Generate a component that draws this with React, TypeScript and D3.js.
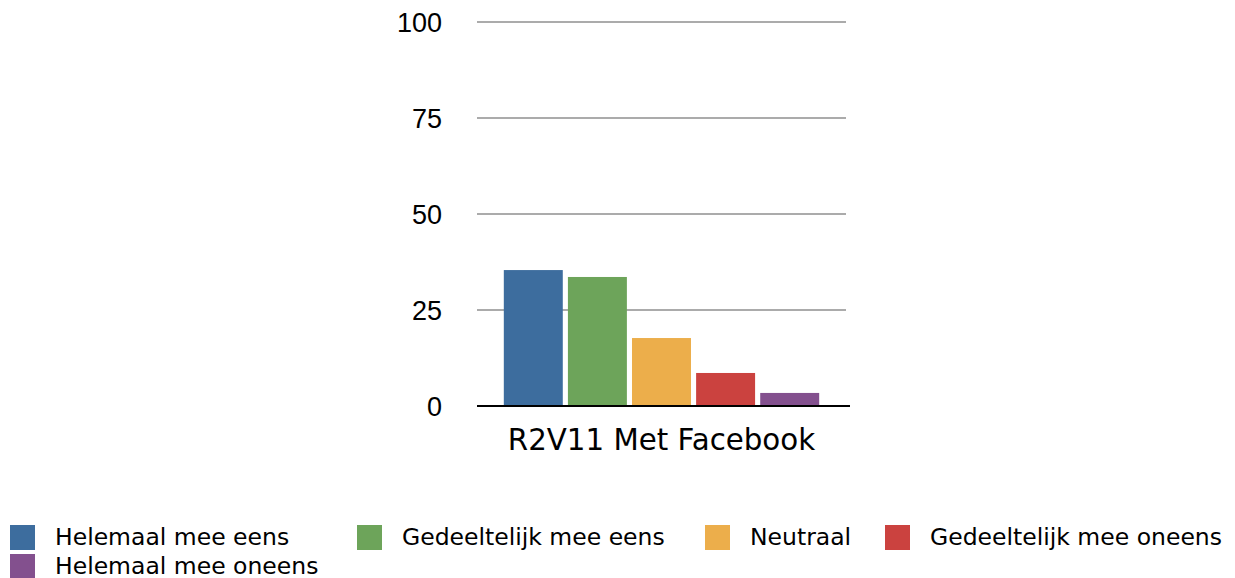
import React from 'react'
import * as d3 from 'd3'

const category = 'R2V11 Met Facebook'
const seriesNames = [
    'Helemaal mee eens',
    'Gedeeltelijk mee eens',
    'Neutraal',
    'Gedeeltelijk mee oneens',
    'Helemaal mee oneens',
]
const seriesValues = [35.4, 33.6, 17.7, 8.6, 3.4]
const seriesColors = ['#3d6d9e', '#6da45a', '#ecae4b', '#cb423f', '#83508e']
const yTicks = [0, 25, 50, 75, 100]

const width = 1235
const height = 578
const plot = { left: 477, right: 846, top: 22, bottom: 406 }
// legend layout: item x start per slot on each row
const legendRows = [[10, 357, 705, 885], [10]]

const App = () => {
    const yScale = d3.scaleLinear().domain([0, 100]).range([plot.bottom, plot.top])
    const xGroup = d3.scaleBand().domain([category]).range([plot.left, plot.right]).paddingInner(0).paddingOuter(0.085)
    const xBar = d3.scaleBand().domain(seriesNames).range([0, xGroup.bandwidth()]).paddingInner(0.08).paddingOuter(0)

    const legendItems = seriesNames.map((name, i) => {
        let row = 0, idx = i
        if (i >= legendRows[0].length) { row = 1; idx = i - legendRows[0].length }
        return { name, color: seriesColors[i], x: legendRows[row][idx], y: 525 + row * 29 }
    })

    return (
        <svg width={width} height={height} style={{ position: 'absolute', left: 0, top: 0 }}>
            {yTicks.map(t => (
                <g key={t}>
                    {t > 0 && <line x1={plot.left} x2={plot.right} y1={yScale(t)} y2={yScale(t)} stroke="#ababab" strokeWidth={2} />}
                    <text x={442} y={yScale(t)} dy="0.36em" textAnchor="end" fontFamily="Liberation Sans, Arial, sans-serif" fontSize={27} fill="#000">{t}</text>
                </g>
            ))}
            {seriesNames.map((name, i) => (
                <rect key={name} x={xGroup(category) + xBar(name)} y={yScale(seriesValues[i])} width={xBar.bandwidth()} height={yScale(0) - yScale(seriesValues[i])} fill={seriesColors[i]} />
            ))}
            <line x1={plot.left} x2={plot.right + 4} y1={yScale(0)} y2={yScale(0)} stroke="#000" strokeWidth={2} />
            <text x={xGroup(category) + xGroup.bandwidth() / 2} y={450} textAnchor="middle" fontFamily="DejaVu Sans, Verdana, sans-serif" fontSize={29.3} fill="#000">{category}</text>
            {legendItems.map(d => (
                <g key={d.name} transform={`translate(${d.x},${d.y})`}>
                    <rect width={25} height={25} fill={d.color} />
                    <text x={45} y={12} dy="0.36em" fontFamily="DejaVu Sans, Verdana, sans-serif" fontSize={23.5} fill="#000">{d.name}</text>
                </g>
            ))}
        </svg>
    )
}

export default App
